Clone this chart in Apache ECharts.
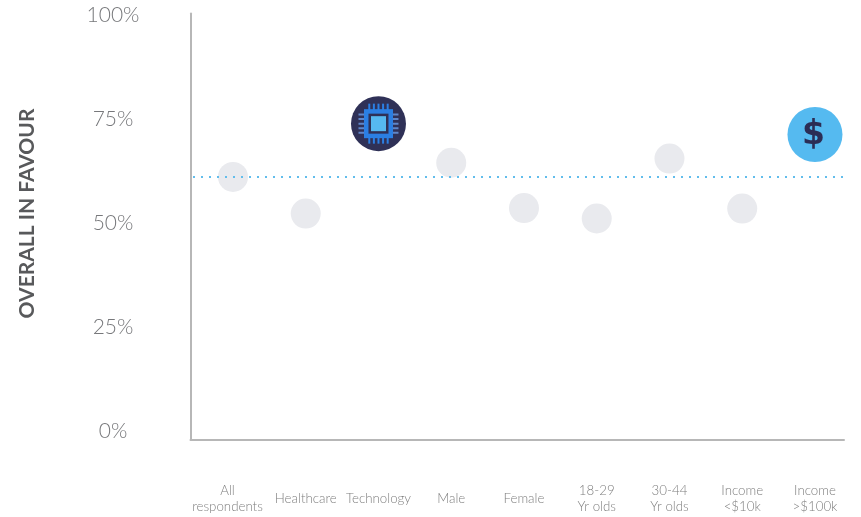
<!DOCTYPE html>
<html><head><meta charset="utf-8">
<style>html,body{margin:0;padding:0;background:#fff}#c{width:861px;height:517px}</style>
<script src="https://cdn.jsdelivr.net/npm/echarts@6/dist/echarts.min.js"></script>
</head><body><div id="c"></div>
<script>
const categories = ['All\nrespondents','Healthcare','Technology','Male','Female','18-29\nYr olds','30-44\nYr olds','Income\n<$10k','Income\n>$100k'];
const favourValues = [61.2, 52.4, 74, 64.6, 53.7, 51.2, 65.6, 53.6, 71.4];
const iconByCategory = {Technology:'chip', 'Income\n>$100k':'dollar'};
const averageValue = 61.18;
const yTicks = [0,25,50,75,100];
const yTitle = 'OVERALL IN FAVOUR';

const chart = echarts.init(document.getElementById('c'), null, {renderer:'canvas'});
const plain = [], icons = [];
favourValues.forEach((v,i)=>{ (iconByCategory[categories[i]] ? icons : plain).push([i,v]); });

function chipItem(c){
  const ch = [], body='#2b7fe3';
  const R=(x,y,w,h,fill)=>ch.push({type:'rect',shape:{x:c[0]+x,y:c[1]+y,width:w,height:h},style:{fill}});
  ch.push({type:'circle',shape:{cx:c[0],cy:c[1],r:27.5},style:{fill:'#2f3157'}});
  for(let k=-2;k<=2;k++){
    R(k*4.6-1,-20,2,40,body);
    R(-20,k*4.6-1,40,2,'#5f86c9');
  }
  R(-14.5,-14.5,29,29,body);
  R(-10,-10,20,20,'#2f3157');
  R(-7.5,-7.5,15,15,'#56b9f0');
  return {type:'group',children:ch};
}
function dollarItem(c){
  return {type:'group',children:[
    {type:'circle',shape:{cx:c[0],cy:c[1],r:27.5},style:{fill:'#55baf0'}},
    {type:'text',style:{x:c[0]-1.5,y:c[1]+1,text:'$',align:'center',verticalAlign:'middle',fill:'#2b2d55',
      font:'bold 33px "DejaVu Sans"'}}
  ]};
}

chart.setOption({
  animation:false,
  backgroundColor:'#fff',
  grid:{left:190.5,top:13.5,width:653.5,height:426,containLabel:false},
  xAxis:{type:'value',min:-0.584,max:8.399,splitLine:{show:false},
    axisLine:{show:true,onZero:false,lineStyle:{color:'#b7b7b7',width:2}},axisTick:{show:false},
    axisLabel:{customValues:categories.map((_,i)=>i),margin:59.5,verticalAlign:'middle',align:'center',
      showMinLabel:true,showMaxLabel:true,hideOverlap:false,
      fontFamily:'Lato',fontWeight:300,fontSize:13.3,lineHeight:16,color:'#808080',
      rich:{first:{fontFamily:'Lato',fontWeight:300,fontSize:13.3,lineHeight:16,color:'#808080',padding:[0,11,0,0]}},
      formatter:v=>v===0?categories[v].split('\n').map(s=>'{first|'+s+'}').join('\n'):categories[v]}},
  yAxis:{type:'value',min:-1.92,max:100.48,splitLine:{show:false},
    axisLine:{show:true,onZero:false,lineStyle:{color:'#b7b7b7',width:2}},axisTick:{show:false},
    axisLabel:{customValues:yTicks,margin:77.5,align:'center',verticalAlign:'middle',
      fontFamily:'Lato',fontWeight:300,fontSize:21,color:'#77787b',formatter:v=>v+'%'},
    name:yTitle,nameLocation:'middle',nameGap:152.5,nameRotate:90,
    nameTextStyle:{fontFamily:'Lato',fontWeight:700,fontSize:21,color:'#58595b',padding:[0,0,0,26]}},
  series:[
    {type:'scatter',data:plain,symbol:'circle',symbolSize:30,itemStyle:{color:'#e9eaee',opacity:1},z:2},
    {type:'line',data:[[-0.5497,averageValue],[8.53,averageValue]],showSymbol:false,clip:false,
      lineStyle:{color:'#62bdec',width:2,type:[2,6],cap:'butt'},z:3},
    {type:'custom',data:icons,clip:false,z:4,encode:{x:0,y:1},
      renderItem:(p,api)=>{
        const i=api.value(0), c=api.coord([i,api.value(1)]);
        return iconByCategory[categories[i]]==='chip'?chipItem(c):dollarItem(c);
      }}
  ]
});
</script></body></html>
